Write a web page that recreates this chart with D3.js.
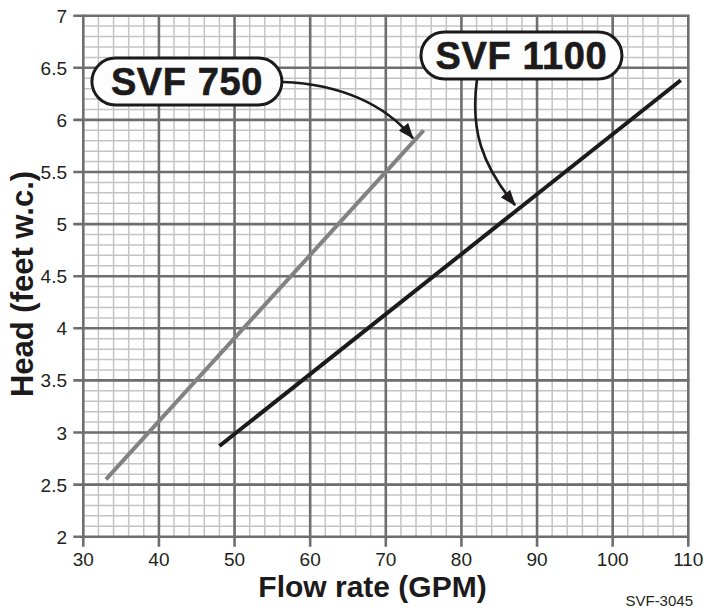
<!DOCTYPE html>
<html>
<head>
<meta charset="utf-8">
<script src="https://cdn.jsdelivr.net/npm/d3@7"></script>
<style>
  html, body { margin: 0; padding: 0; background: #ffffff; }
  svg { display: block; }
  text { font-family: "Liberation Sans", Arial, Helvetica, sans-serif; }
</style>
</head>
<body>
<div id="chart"></div>
<script>
// ---- data ----
const xTicks = [30, 40, 50, 60, 70, 80, 90, 100, 110];
const yTicks = [2, 2.5, 3, 3.5, 4, 4.5, 5, 5.5, 6, 6.5, 7];
const yTickLabels = ["2", "2.5", "3", "3.5", "4", "4.5", "5", "5.5", "6", "6.5", "7"];
const seriesNames = ["SVF 750", "SVF 1100"];
const svf750Flow = [33, 75];
const svf750Head = [2.55, 5.9];
const svf1100Flow = [48, 109];
const svf1100Head = [2.87, 6.38];
// annotation anchors (data units): label centre, arrow path points
const labelFlow = [43.7, 87.94];
const labelHead = [6.368, 6.618];
const arrow750 = [[56.4, 6.364], [63.95, 6.344], [69.9, 6.15], [73.6, 5.823]];
const arrow1100 = [[82.06, 6.391], [81.14, 5.902], [82.72, 5.566], [87.09, 5.182]];
const xTitle = "Flow rate (GPM)";
const yTitle = "Head (feet w.c.)";
const figureCode = "SVF-3045";

// ---- layout ----
const W = 706, H = 609;
const plot = { left: 83.3, right: 688.3, top: 15.7, bottom: 536.7 };

const svg = d3.select("#chart").append("svg")
  .attr("width", W).attr("height", H)
  .style("background", "#ffffff");

const x = d3.scaleLinear().domain([30, 110]).range([plot.left, plot.right]);
const y = d3.scaleLinear().domain([2, 7]).range([plot.bottom, plot.top]);

// minor grid
const xMinor = d3.range(30, 110.001, 2);
const yMinor = d3.range(20, 70.001, 1).map(v => v / 10);
const gMinor = svg.append("g");
gMinor.selectAll("line.vx").data(xMinor).join("line")
  .attr("x1", d => x(d)).attr("x2", d => x(d))
  .attr("y1", plot.top).attr("y2", plot.bottom)
  .attr("stroke", "#c4c4c4").attr("stroke-width", 1.5);
gMinor.selectAll("line.hy").data(yMinor).join("line")
  .attr("y1", d => y(d)).attr("y2", d => y(d))
  .attr("x1", plot.left).attr("x2", plot.right)
  .attr("stroke", "#c4c4c4").attr("stroke-width", 1.5);

// major grid (extends 10px past left/bottom as ticks)
const gMajor = svg.append("g");
gMajor.selectAll("line.vx").data(xTicks).join("line")
  .attr("x1", d => x(d)).attr("x2", d => x(d))
  .attr("y1", plot.top - 1).attr("y2", plot.bottom + 10)
  .attr("stroke", "#6e6e6e").attr("stroke-width", 2.6);
gMajor.selectAll("line.hy").data(yTicks).join("line")
  .attr("y1", d => y(d)).attr("y2", d => y(d))
  .attr("x1", plot.left - 10).attr("x2", plot.right + 1)
  .attr("stroke", "#6e6e6e").attr("stroke-width", 2.6);

// tick labels
svg.append("g").selectAll("text").data(xTicks).join("text")
  .attr("x", d => x(d)).attr("y", 566)
  .attr("text-anchor", "middle")
  .attr("font-size", 19).attr("fill", "#231f20")
  .text(d => d);
svg.append("g").selectAll("text").data(yTicks).join("text")
  .attr("x", 67).attr("y", d => y(d) + 7)
  .attr("text-anchor", "end")
  .attr("font-size", 19).attr("fill", "#231f20")
  .text((d, i) => yTickLabels[i]);

// series lines
const line = d3.line().x(d => x(d[0])).y(d => y(d[1]));
svg.append("path")
  .datum(svf750Flow.map((f, i) => [f, svf750Head[i]]))
  .attr("d", line).attr("fill", "none")
  .attr("stroke", "#828282").attr("stroke-width", 4);
svg.append("path")
  .datum(svf1100Flow.map((f, i) => [f, svf1100Head[i]]))
  .attr("d", line).attr("fill", "none")
  .attr("stroke", "#1c1a1b").attr("stroke-width", 4);

// arrow marker
svg.append("defs").append("marker")
  .attr("id", "ah").attr("markerUnits", "userSpaceOnUse")
  .attr("viewBox", "0 0 16 12").attr("refX", 15).attr("refY", 6)
  .attr("markerWidth", 16).attr("markerHeight", 12)
  .attr("orient", "auto")
  .append("path").attr("d", "M0,0 L16,6 L0,12 Z").attr("fill", "#1c1a1b");

const curve = pts => {
  const p = pts.map(d => [x(d[0]), y(d[1])]);
  return `M${p[0][0]},${p[0][1]} C${p[1][0]},${p[1][1]} ${p[2][0]},${p[2][1]} ${p[3][0]},${p[3][1]}`;
};
[arrow750, arrow1100].forEach(pts => {
  svg.append("path").attr("d", curve(pts))
    .attr("fill", "none").attr("stroke", "#1c1a1b").attr("stroke-width", 2.6)
    .attr("marker-end", "url(#ah)");
});

// label pills
const pillW = [190, 201], pillH = 47;
seriesNames.forEach((name, i) => {
  const cx = x(labelFlow[i]), cy = y(labelHead[i]);
  svg.append("rect")
    .attr("x", cx - pillW[i] / 2).attr("y", cy - pillH / 2)
    .attr("width", pillW[i]).attr("height", pillH)
    .attr("rx", pillH / 2).attr("ry", pillH / 2)
    .attr("fill", "#fdfdfd").attr("stroke", "#1c1a1b").attr("stroke-width", 3);
  svg.append("text")
    .attr("x", cx).attr("y", cy + 13.5)
    .attr("text-anchor", "middle")
    .attr("font-size", 38).attr("font-weight", "bold")
    .attr("letter-spacing", 0.6)
    .attr("stroke", "#1c1a1b").attr("stroke-width", 0.6)
    .attr("fill", "#1c1a1b")
    .text(name);
});

// axis titles
svg.append("text")
  .attr("x", 372.5).attr("y", 597)
  .attr("text-anchor", "middle")
  .attr("font-size", 30).attr("font-weight", "bold").attr("fill", "#1c1a1b")
  .text(xTitle);
svg.append("text")
  .attr("transform", "translate(33,284) rotate(-90)")
  .attr("text-anchor", "middle")
  .attr("font-size", 31).attr("font-weight", "bold").attr("fill", "#1c1a1b")
  .text(yTitle);

// figure code
svg.append("text")
  .attr("x", 693).attr("y", 606)
  .attr("text-anchor", "end")
  .attr("font-size", 15).attr("fill", "#231f20")
  .text(figureCode);
</script>
</body>
</html>
